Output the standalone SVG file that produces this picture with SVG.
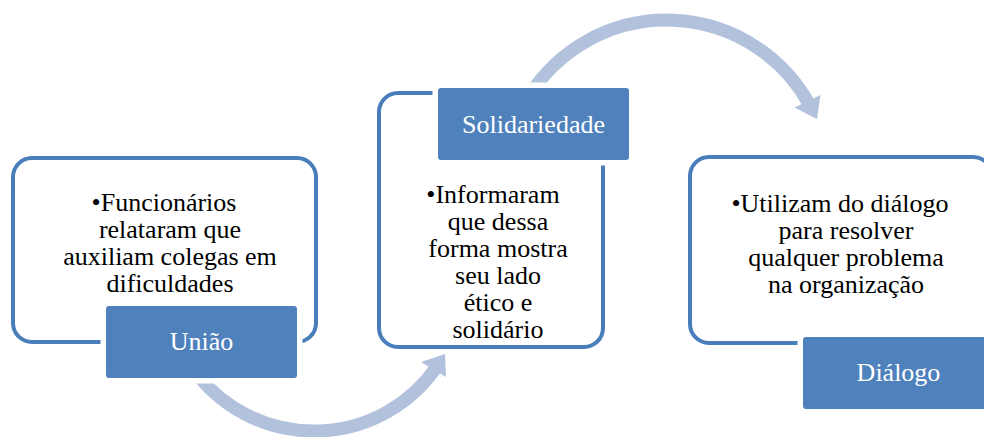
<svg xmlns="http://www.w3.org/2000/svg" width="984" height="437" viewBox="0 0 984 437">
  <style>
    .box { fill: #ffffff; stroke: #4A7EBB; stroke-width: 4; }
    .lbl { fill: #4F81BD; stroke: #ffffff; stroke-width: 11; paint-order: stroke; }
    .lt { font-family: 'Liberation Serif', 'Times New Roman', Times, serif; font-size: 26px; fill: #ffffff; text-anchor: middle; }
    .bt { font-family: 'Liberation Serif', 'Times New Roman', Times, serif; font-size: 26px; fill: #000000; text-anchor: middle; }
    .arc { fill: none; stroke: #B2C1DC; stroke-width: 13; }
    .head { fill: #B2C1DC; }
  </style>
  <rect width="984" height="437" fill="#ffffff"/>
  <g id="connectors">
    <path class="arc" d="M 197.6 375 A 149 149 0 0 0 436 367.7"/>
    <polygon class="head" points="445,354 446,377 421,362"/>
    <path class="arc" d="M 529.5 95 A 163 163 0 0 1 810 105.6"/>
    <polygon class="head" points="817,119 820.5,95 794.5,107.5"/>
  </g>
  <g id="node-uniao">
    <rect class="box" x="13" y="158" width="303" height="184" rx="19"/>
    <rect class="lbl" x="106" y="306" width="191" height="72" rx="3"/>
    <text class="lt" x="201.5" y="350">União</text>
    <text class="bt" x="164" y="211">•Funcionários</text>
    <text class="bt" x="170" y="238">relataram que</text>
    <text class="bt" x="170" y="265">auxiliam colegas em</text>
    <text class="bt" x="170" y="292">dificuldades</text>
  </g>
  <g id="node-solidariedade">
    <rect class="box" x="379" y="93" width="224" height="254" rx="19"/>
    <rect class="lbl" x="438" y="88" width="191" height="72" rx="3"/>
    <text class="lt" x="533.5" y="133">Solidariedade</text>
    <text class="bt" x="493" y="203">•Informaram</text>
    <text class="bt" x="498" y="230">que dessa</text>
    <text class="bt" x="498" y="257">forma mostra</text>
    <text class="bt" x="498" y="284">seu lado</text>
    <text class="bt" x="498" y="311">ético e</text>
    <text class="bt" x="498" y="338">solidário</text>
  </g>
  <g id="node-dialogo">
    <rect class="box" x="690" y="157" width="302" height="186" rx="19"/>
    <rect class="lbl" x="803" y="337" width="191" height="72" rx="3"/>
    <text class="lt" x="898.5" y="381">Diálogo</text>
    <text class="bt" x="840" y="212">•Utilizam do diálogo</text>
    <text class="bt" x="846" y="239">para resolver</text>
    <text class="bt" x="846" y="266">qualquer problema</text>
    <text class="bt" x="846" y="293">na organização</text>
  </g>
</svg>
